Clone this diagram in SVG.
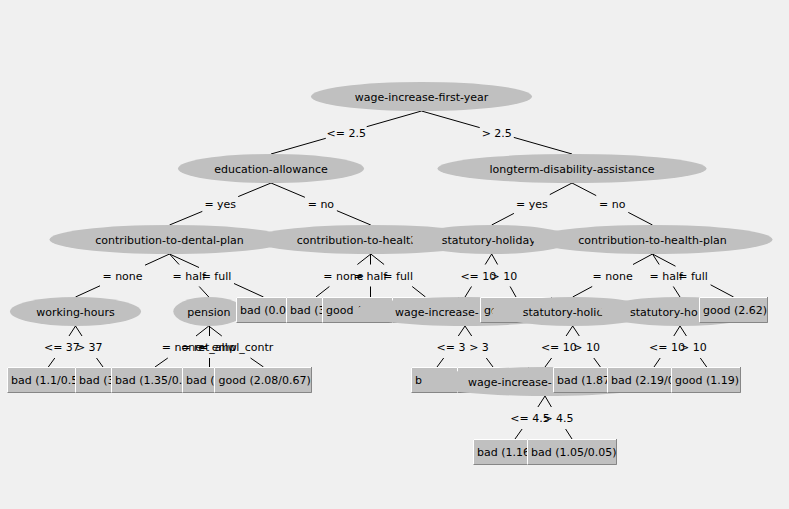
<svg xmlns="http://www.w3.org/2000/svg" width="789" height="509" viewBox="0 0 789 509">
<style>
text{font-family:"DejaVu Sans","Liberation Sans",sans-serif;font-size:11px;fill:#000}
.m{text-anchor:middle}
.f{fill:#c0c0c0}
.hl{stroke:#ffffff;fill:none;stroke-width:1}
.dk{stroke:#868686;fill:none;stroke-width:1}
#connectors path{stroke:#000;stroke-width:1;fill:none}
</style>
<rect x="0" y="0" width="789" height="509" fill="#f0f0f0"/>
<g id="connectors">
<path d="M421.5 111L366.7 126.7M325.8 138.3L271 154"/>
<path d="M421.5 111L479.7 127.6M513.8 137.4L572 154"/>
<path d="M271 183L238.2 196.6M202.3 211.4L169.5 225"/>
<path d="M271 183L304.9 197.3M336.9 210.7L370.8 225"/>
<path d="M572 183L549.8 194.6M513.9 213.4L491.7 225"/>
<path d="M572 183L596.2 195.6M628.3 212.4L652.5 225"/>
<path d="M169.5 254L145 265.2M100 285.8L75.5 297"/>
<path d="M169.5 254L179.1 264.5M199.2 286.5L208.8 297"/>
<path d="M169.5 254L199 267.5M234 283.5L263.5 297"/>
<path d="M370.8 254L357.4 264.5M329.4 286.5L316 297"/>
<path d="M370.5 254V264.5M370.5 286.5V297"/>
<path d="M370.8 254L384.1 264.5M412.2 286.5L425.5 297"/>
<path d="M491.7 254L485.2 264.5M471.5 286.5L465 297"/>
<path d="M491.7 254L497.6 264.5M510.1 286.5L516 297"/>
<path d="M652.5 254L633 264.5M592.2 286.5L572.7 297"/>
<path d="M652.5 254L659.2 264.5M673.3 286.5L680 297"/>
<path d="M652.5 254L675.5 266.2M710.6 284.8L733.6 297"/>
<path d="M75.5 326L69 336M54.8 358L48.3 367"/>
<path d="M75.5 326L82 336M96.5 358L103 367"/>
<path d="M208.8 326L196 336M167.8 358L155 367"/>
<path d="M209.5 326V336M209.5 358V367"/>
<path d="M208.8 326L221.8 336M250.5 358L263.5 367"/>
<path d="M465 326L458.3 336M443.7 358L437 367"/>
<path d="M465 326L471.7 336M486.3 358L493 367"/>
<path d="M572.7 326L566.1 336M551.6 358L545 367"/>
<path d="M572.7 326L579.3 336M593.8 358L600.4 367"/>
<path d="M680 326L673.8 336M660.2 358L654 367"/>
<path d="M680 326L686.4 336M700.3 358L706.7 367"/>
<path d="M545 396L537.9 407M522.1 429L515 439"/>
<path d="M545 396L551.4 407M565.6 429L572 439"/>
<text class="m" x="346.25" y="136.5">&lt;= 2.5</text>
<text class="m" x="496.75" y="136.5">&gt; 2.5</text>
<text class="m" x="220.25" y="208">= yes</text>
<text class="m" x="320.9" y="208">= no</text>
<text class="m" x="531.85" y="208">= yes</text>
<text class="m" x="612.25" y="208">= no</text>
<text class="m" x="122.5" y="279.5">= none</text>
<text class="m" x="189.15" y="279.5">= half</text>
<text class="m" x="216.5" y="279.5">= full</text>
<text class="m" x="343.4" y="279.5">= none</text>
<text class="m" x="370.4" y="279.5">= half</text>
<text class="m" x="398.15" y="279.5">= full</text>
<text class="m" x="478.35" y="279.5">&lt;= 10</text>
<text class="m" x="503.85" y="279.5">&gt; 10</text>
<text class="m" x="612.6" y="279.5">= none</text>
<text class="m" x="666.25" y="279.5">= half</text>
<text class="m" x="693.05" y="279.5">= full</text>
<text class="m" x="61.9" y="351">&lt;= 37</text>
<text class="m" x="89.25" y="351">&gt; 37</text>
<text class="m" x="181.9" y="351">= none</text>
<text class="m" x="209" y="351">= ret_allw</text>
<text class="m" x="236.15" y="351">= empl_contr</text>
<text class="m" x="451" y="351">&lt;= 3</text>
<text class="m" x="479" y="351">&gt; 3</text>
<text class="m" x="558.85" y="351">&lt;= 10</text>
<text class="m" x="586.55" y="351">&gt; 10</text>
<text class="m" x="667" y="351">&lt;= 10</text>
<text class="m" x="693.35" y="351">&gt; 10</text>
<text class="m" x="530" y="422">&lt;= 4.5</text>
<text class="m" x="558.5" y="422">&gt; 4.5</text>
</g>
<g id="n0"><ellipse class="f" cx="421.5" cy="96.5" rx="110.5" ry="14.5"/><text class="m" x="421.5" y="100.5">wage-increase-first-year</text></g>
<g id="n1"><ellipse class="f" cx="271" cy="168.5" rx="93" ry="14.5"/><text class="m" x="271" y="172.5">education-allowance</text></g>
<g id="n2"><ellipse class="f" cx="572" cy="168.5" rx="134.5" ry="14.5"/><text class="m" x="572" y="172.5">longterm-disability-assistance</text></g>
<g id="n3"><ellipse class="f" cx="169.5" cy="239.5" rx="120" ry="14.5"/><text class="m" x="169.5" y="243.5">contribution-to-dental-plan</text></g>
<g id="n4"><ellipse class="f" cx="370.8" cy="239.5" rx="120" ry="14.5"/><text x="296.7" y="243.5">contribution-to-health</text></g>
<g id="n5"><ellipse class="f" cx="491.7" cy="239.5" rx="81" ry="14.5"/><text x="441.7" y="243.5">statutory-holiday</text></g>
<g id="n6"><ellipse class="f" cx="652.5" cy="239.5" rx="120" ry="14.5"/><text class="m" x="652.5" y="243.5">contribution-to-health-plan</text></g>
<g id="n7"><ellipse class="f" cx="75.5" cy="311.5" rx="65.5" ry="14.5"/><text class="m" x="75.5" y="315.5">working-hours</text></g>
<g id="n8"><ellipse class="f" cx="208.8" cy="311.5" rx="35.5" ry="14.5"/><text class="m" x="208.8" y="315.5">pension</text></g>
<g id="n9"><rect class="f" x="236" y="297" width="56" height="26"/><path class="hl" d="M236.5 322V297.5H291"/><path class="dk" d="M237 322.5H291.5V297"/><text x="240" y="314">bad (0.0</text></g>
<g id="n10"><rect class="f" x="286" y="297" width="61" height="26"/><path class="hl" d="M286.5 322V297.5H346"/><path class="dk" d="M287 322.5H346.5V297"/><text x="290" y="314">bad (3</text></g>
<g id="n11"><rect class="f" x="322" y="297" width="97" height="26"/><path class="hl" d="M322.5 322V297.5H418"/><path class="dk" d="M323 322.5H418.5V297"/><text x="326" y="314">good (</text></g>
<g id="n12"><rect class="f" x="392" y="297" width="67" height="26"/><path class="hl" d="M392.5 322V297.5H458"/><path class="dk" d="M393 322.5H458.5V297"/></g>
<g id="n13"><ellipse class="f" cx="465" cy="311.5" rx="111" ry="14.5"/><text x="395" y="315.5">wage-increase-</text></g>
<g id="n14"><rect class="f" x="480" y="297" width="72" height="26"/><path class="hl" d="M480.5 322V297.5H551"/><path class="dk" d="M481 322.5H551.5V297"/><text x="484" y="314">go</text></g>
<g id="n15"><ellipse class="f" cx="572.7" cy="311.5" rx="81" ry="14.5"/><text x="522.7" y="315.5">statutory-holid</text></g>
<g id="n16"><ellipse class="f" cx="680" cy="311.5" rx="81" ry="14.5"/><text x="630" y="315.5">statutory-ho</text></g>
<g id="n17"><rect class="f" x="699" y="297" width="69" height="26"/><path class="hl" d="M699.5 322V297.5H767"/><path class="dk" d="M700 322.5H767.5V297"/><text x="703" y="314">good (2.62)</text></g>
<g id="n18"><rect class="f" x="7" y="367" width="82" height="26"/><path class="hl" d="M7.5 392V367.5H88"/><path class="dk" d="M8 392.5H88.5V367"/><text x="11" y="384">bad (1.1/0.5</text></g>
<g id="n19"><rect class="f" x="75" y="367" width="56" height="26"/><path class="hl" d="M75.5 392V367.5H130"/><path class="dk" d="M76 392.5H130.5V367"/><text x="79" y="384">bad (3</text></g>
<g id="n20"><rect class="f" x="111" y="367" width="88" height="26"/><path class="hl" d="M111.5 392V367.5H198"/><path class="dk" d="M112 392.5H198.5V367"/><text x="115" y="384">bad (1.35/0.</text></g>
<g id="n21"><rect class="f" x="182" y="367" width="55" height="26"/><path class="hl" d="M182.5 392V367.5H236"/><path class="dk" d="M183 392.5H236.5V367"/><text x="186" y="384">bad (</text></g>
<g id="n22"><rect class="f" x="214" y="367" width="98" height="26"/><path class="hl" d="M214.5 392V367.5H311"/><path class="dk" d="M215 392.5H311.5V367"/><text x="218.5" y="384">good (2.08/0.67)</text></g>
<g id="n23"><rect class="f" x="411" y="367" width="52" height="26"/><path class="hl" d="M411.5 392V367.5H462"/><path class="dk" d="M412 392.5H462.5V367"/><text x="415" y="384">b</text></g>
<g id="n24"><rect class="f" x="457" y="367" width="72" height="26"/><path class="hl" d="M457.5 392V367.5H528"/><path class="dk" d="M458 392.5H528.5V367"/></g>
<g id="n25"><ellipse class="f" cx="545" cy="381.5" rx="123" ry="14.5"/><text x="468" y="385.5">wage-increase-</text></g>
<g id="n26"><rect class="f" x="553" y="367" width="95" height="26"/><path class="hl" d="M553.5 392V367.5H647"/><path class="dk" d="M554 392.5H647.5V367"/><text x="557" y="384">bad (1.87</text></g>
<g id="n27"><rect class="f" x="607" y="367" width="94" height="26"/><path class="hl" d="M607.5 392V367.5H700"/><path class="dk" d="M608 392.5H700.5V367"/><text x="611" y="384">bad (2.19/0</text></g>
<g id="n28"><rect class="f" x="671" y="367" width="70" height="26"/><path class="hl" d="M671.5 392V367.5H740"/><path class="dk" d="M672 392.5H740.5V367"/><text x="675" y="384">good (1.19)</text></g>
<g id="n29"><rect class="f" x="473" y="439" width="85" height="26"/><path class="hl" d="M473.5 464V439.5H557"/><path class="dk" d="M474 464.5H557.5V439"/><text x="477" y="456">bad (1.16</text></g>
<g id="n30"><rect class="f" x="527" y="439" width="90" height="26"/><path class="hl" d="M527.5 464V439.5H616"/><path class="dk" d="M528 464.5H616.5V439"/><text x="531" y="456">bad (1.05/0.05)</text></g>
</svg>
